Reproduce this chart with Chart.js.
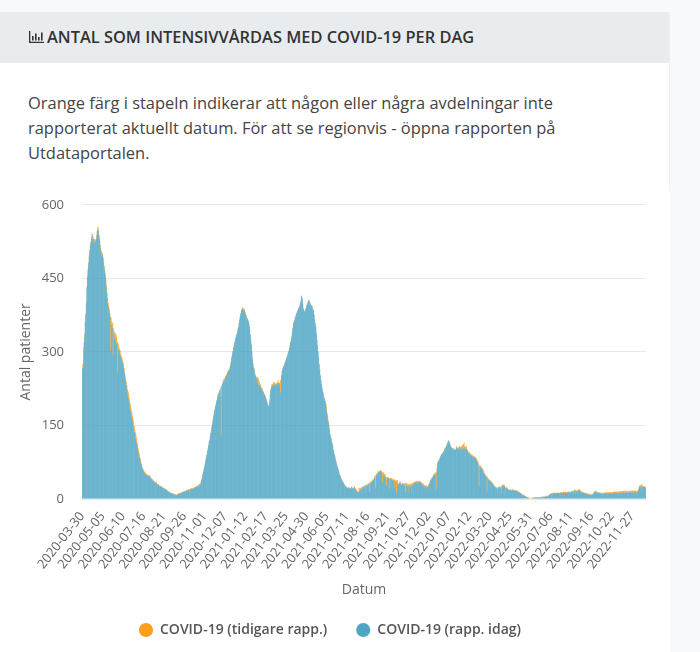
<!DOCTYPE html>
<html>
<head>
<meta charset="utf-8">
<script src="https://cdn.jsdelivr.net/npm/chart.js@4/dist/chart.umd.min.js"></script>
<style>
    html, body { margin: 0; padding: 0; background: #f7fafb; }
    body { width: 700px; height: 652px; position: relative; overflow: hidden; font-family: "Open Sans", sans-serif; }
    .lower-white { position: absolute; left: 0; top: 12px; width: 670px; height: 640px; background: #fff; }
    .card { position: absolute; left: 0; top: 12px; width: 669px; height: 179px; background: #fff; border-right: 1px solid #eef0f2; }
    .card-header { height: 49px; padding-bottom: 2px; background: #e9ecef; display: flex; align-items: center; padding-left: 29px; }
    .card-header h2 { margin: 0 0 0 3px; font-size: 16.4px; font-weight: 600; color: #333; white-space: nowrap; }
    .intro { position: absolute; left: 28px; top: 78px; margin: 0; font-size: 16.45px; line-height: 25px; color: #444; white-space: nowrap; }
    .chart-box { position: absolute; left: 0; top: 179px; width: 660px; height: 473px; }
</style>
</head>
<body>
<div class="lower-white"></div>
<div class="card">
    <div class="card-header">
        <svg width="15" height="12" viewBox="0 0 15 12"><path d="M0 0h1.3v10.7H15V12H0zM3 5h1.6v4.5H3zM6 2.5h1.6v7H6zM9 6h1.6v3.5H9zM12 1.5h1.6v8H12z" fill="#333"/></svg>
        <h2>ANTAL SOM INTENSIVVÅRDAS MED COVID-19 PER DAG</h2>
    </div>
    <p class="intro">Orange färg i stapeln indikerar att någon eller några avdelningar inte<br>rapporterat aktuellt datum. För att se regionvis - öppna rapporten på<br>Utdataportalen.</p>
</div>
<div class="chart-box"><canvas id="icuChart"></canvas></div>

<script>
// one row per 36 days (same spacing as the tick labels)
const rappIdag = [
    266,268,272,300,330,358,375,400,430,452,465,478,490,505,516,522,528,533,537,530,521,524,526,523,525,530,540,548,550,543,534,527,512,503,500,494,
    497,490,478,470,462,452,440,425,412,400,392,385,378,372,300,310,355,350,290,295,335,330,325,322,318,316,255,262,305,302,298,294,290,286,282,278,
    276,270,262,255,246,238,230,222,212,206,200,193,186,181,174,168,162,156,149,143,137,131,124,118,112,106,100,94,88,84,80,75,72,68,64,60,
    57,55,53,52,50,49,49,48,47,46,48,46,44,42,41,40,38,37,36,35,34,33,33,32,30,29,29,28,27,26,26,25,24,24,23,22,
    22,21,20,20,19,18,17,16,15,15,14,13,12,12,11,11,10,10,9,9,9,8,8,8,9,9,10,10,11,11,12,12,13,13,14,15,
    15,15,16,16,17,17,17,18,18,19,9,19,20,20,20,21,21,22,22,23,23,24,24,25,26,27,27,28,28,30,34,39,44,50,55,60,
    66,72,78,84,90,96,102,108,115,120,127,134,140,147,154,161,168,175,181,187,192,197,202,207,212,215,218,222,225,127,130,232,235,238,240,242,
    243,246,249,252,254,257,259,261,262,268,274,280,287,293,300,306,311,316,322,327,332,336,340,345,350,358,366,372,378,384,386,388,386,384,386,384,
    380,376,372,368,366,364,362,355,348,335,325,315,300,285,275,268,264,258,252,248,245,242,238,234,232,232,230,228,226,224,222,220,218,215,213,211,
    208,204,200,196,192,190,188,200,212,222,226,228,230,232,232,234,232,230,234,235,232,234,236,232,234,236,215,220,250,258,264,268,270,274,277,280,
    284,287,290,294,298,302,306,312,318,324,330,338,348,356,360,364,368,372,376,379,382,385,388,390,392,396,402,412,414,408,396,388,384,382,384,388,
    392,396,398,402,404,406,402,398,396,394,394,390,386,384,376,366,358,350,338,325,312,300,289,275,264,252,242,234,228,221,216,210,205,200,194,188,
    180,172,165,157,150,142,133,128,123,118,113,108,100,95,90,85,80,75,70,66,62,58,54,50,47,44,41,39,36,34,32,30,28,26,25,24,
    23,22,22,23,22,21,21,22,24,23,22,21,22,24,20,19,17,16,15,14,13,15,17,14,19,21,18,22,24,20,23,26,25,12,27,28,
    26,29,30,14,16,33,30,34,35,37,34,38,42,44,22,24,48,50,52,54,53,55,56,57,55,54,32,34,50,48,47,45,44,25,27,42,
    42,43,41,20,22,41,39,40,38,37,39,22,24,36,35,15,10,36,30,28,30,32,34,30,28,29,30,30,28,26,30,12,14,29,16,26,
    27,14,26,25,27,26,12,27,29,30,32,31,33,34,35,32,34,31,33,35,36,34,33,32,30,28,30,27,26,24,26,22,25,24,23,25,
    28,14,32,36,38,40,42,44,46,48,49,50,50,22,20,62,73,76,78,80,83,86,88,90,92,93,95,97,100,103,103,106,109,112,115,118,
    119,116,112,108,106,104,103,102,101,103,100,98,100,104,105,103,102,100,104,106,103,101,100,104,102,100,103,105,100,101,102,103,100,98,96,93,
    94,92,90,89,88,87,86,85,85,84,84,83,81,79,76,74,72,24,26,66,64,63,62,60,57,54,52,50,48,47,46,14,16,42,40,38,
    37,36,35,34,33,32,30,28,26,25,24,23,22,22,12,22,23,24,22,22,23,10,24,26,27,28,26,25,9,22,23,21,20,19,18,18,
    18,18,17,18,19,17,18,17,16,17,17,16,17,16,15,14,14,13,12,11,10,9,8,8,7,7,6,5,5,4,3,3,2,2,1,1,
    0,0,1,1,1,2,1,2,1,2,2,1,2,2,2,3,2,3,3,3,3,3,4,3,4,4,4,5,5,5,5,6,6,7,8,9,
    10,10,11,5,11,12,12,11,10,12,12,11,12,11,12,10,12,13,11,12,13,5,14,13,12,12,14,13,12,11,14,15,13,12,13,14,
    14,13,15,16,14,15,16,18,8,16,15,14,16,18,20,17,16,15,14,13,14,12,13,12,11,12,10,11,10,9,10,9,8,9,8,8,
    9,8,8,10,12,14,16,15,14,13,14,13,12,11,12,10,11,10,11,10,10,10,11,10,12,11,10,12,11,10,11,12,10,11,12,11,
    10,11,12,11,12,13,11,12,13,11,12,13,6,12,11,13,12,13,11,13,12,14,12,13,14,12,14,13,7,13,14,12,14,15,13,12,
    14,13,11,14,15,13,14,12,10,12,16,18,22,25,26,25,24,12,26,26,25,24,25,24,23
];

const tidigareRapp = [
    0,8,38,20,6,4,4,3,3,3,5,5,6,3,2,3,5,8,4,6,10,6,4,6,4,8,6,5,6,5,5,3,6,5,6,4,
    5,4,6,5,4,6,8,10,8,10,8,8,9,8,71,60,7,8,70,53,9,10,14,15,16,14,65,58,10,8,8,10,6,6,8,6,
    5,6,5,4,6,8,8,10,12,14,16,14,12,14,12,12,14,13,14,14,12,10,12,14,12,10,12,9,10,8,5,6,3,3,2,2,
    3,3,2,4,2,3,1,2,3,2,1,2,3,2,2,1,3,2,2,1,2,1,2,3,1,2,1,2,2,1,1,2,1,2,1,1,
    1,1,2,1,1,1,2,1,1,1,1,1,1,1,2,1,1,1,1,1,1,1,1,1,1,1,2,1,1,1,1,2,1,1,1,1,
    2,1,1,2,1,1,2,1,2,1,11,2,1,2,3,1,2,1,2,1,2,3,2,1,2,1,3,2,3,2,3,2,1,2,1,2,
    2,1,2,2,1,2,1,2,2,1,2,1,3,2,1,2,3,1,2,2,1,2,1,3,2,1,2,1,3,81,100,1,2,3,4,4,
    4,5,3,2,4,3,5,2,3,2,3,2,3,2,2,3,2,3,2,3,2,1,2,3,1,2,1,2,1,2,2,3,2,4,4,3,
    2,2,3,2,3,2,1,2,3,2,3,2,2,3,2,2,3,2,2,2,4,7,10,12,12,8,5,6,4,3,4,3,2,2,1,1,
    1,1,1,2,1,1,1,1,2,2,4,6,5,3,6,4,6,4,3,2,2,5,7,6,3,1,28,20,3,3,2,1,2,1,2,1,
    1,2,1,1,2,1,2,3,2,1,2,3,2,3,2,1,2,1,2,1,1,1,1,1,2,1,1,1,1,1,2,1,1,1,1,1,
    1,1,1,1,1,1,1,2,1,1,1,1,1,1,1,1,1,1,1,1,2,1,1,1,1,1,1,1,1,1,1,1,1,1,6,8,
    8,4,6,3,4,2,1,1,2,1,1,1,1,1,1,2,1,2,1,1,1,2,1,1,2,1,1,1,1,1,1,1,2,1,1,1,
    1,1,2,1,1,2,1,1,2,1,1,2,1,2,4,3,4,3,2,2,1,8,4,9,3,2,6,2,2,6,2,2,2,16,2,2,
    3,2,2,18,17,2,4,2,2,3,6,2,2,3,24,25,3,2,2,3,4,2,1,2,4,3,22,20,4,6,4,5,4,20,18,2,
    3,1,3,22,20,2,4,3,4,3,2,16,16,4,4,22,28,3,2,3,2,3,2,2,3,2,3,2,3,4,2,20,18,3,16,3,
    3,16,4,5,3,4,20,3,4,3,2,3,2,1,2,4,2,5,2,2,1,2,2,3,4,3,2,4,3,4,2,5,2,3,2,2,
    2,16,2,2,2,2,2,1,2,2,3,2,2,33,34,2,1,2,1,1,1,1,1,2,1,1,2,1,1,2,1,1,1,1,1,1,
    1,1,1,1,1,1,1,2,1,1,1,3,1,2,3,2,3,3,2,2,4,5,6,5,8,10,9,10,8,6,4,5,3,3,2,2,
    2,2,3,2,3,4,3,2,3,3,2,2,3,3,4,3,4,40,44,4,4,3,3,3,4,5,4,3,3,2,2,30,30,2,2,2,
    2,1,3,2,2,1,2,2,2,1,2,2,1,2,10,3,2,2,3,2,3,16,4,3,2,2,2,3,14,2,1,2,2,1,2,1,
    1,2,1,1,2,2,1,2,2,1,1,2,1,1,1,1,1,2,1,1,2,1,1,1,1,1,1,1,1,1,1,1,1,1,1,1,
    1,1,1,2,2,1,2,1,3,2,2,3,2,2,2,1,2,1,1,1,2,1,1,2,1,1,1,1,1,2,1,1,1,1,1,1,
    1,1,1,6,2,1,1,2,2,1,1,2,1,2,1,3,1,1,3,2,1,8,1,2,3,2,1,1,2,3,1,1,2,3,2,1,
    2,3,2,1,3,2,3,2,10,2,3,4,2,1,1,2,3,2,3,2,1,2,1,2,2,1,2,1,2,1,1,2,2,1,1,1,
    1,1,2,1,1,1,1,2,2,2,1,2,2,3,2,3,2,3,2,3,3,2,2,3,2,2,4,2,3,4,3,2,4,3,2,4,
    4,3,2,4,3,3,4,3,2,4,3,2,9,3,5,3,4,3,5,3,4,3,5,4,2,4,3,4,9,4,2,4,3,2,4,5,
    3,4,6,3,2,5,3,5,6,4,2,2,2,3,2,3,5,18,2,1,1,1,1,1,1
];

const tickLabels = [
    '2020-03-30', '2020-05-05', '2020-06-10', '2020-07-16', '2020-08-21', '2020-09-26', '2020-11-01',
    '2020-12-07', '2021-01-12', '2021-02-17', '2021-03-25', '2021-04-30', '2021-06-05', '2021-07-11',
    '2021-08-16', '2021-09-21', '2021-10-27', '2021-12-02', '2022-01-07', '2022-02-12', '2022-03-20',
    '2022-04-25', '2022-05-31', '2022-07-06', '2022-08-11', '2022-09-16', '2022-10-22', '2022-11-27'
];
const yTicks = [0, 150, 300, 450, 600];

// one category per day
const categories = rappIdag.map((v, i) => {
    const d = new Date(Date.UTC(2020, 2, 30 + i));
    return d.toISOString().slice(0, 10);
});

const tickColor = '#666';
const fontFamily = '"Open Sans", sans-serif';

const ctx = document.getElementById('icuChart').getContext('2d');
const icuChart = new Chart(ctx, {
    type: 'bar',
    data: {
        labels: categories,
        datasets: [
            {
                label: 'COVID-19 (rapp. idag)',
                data: rappIdag,
                backgroundColor: '#4fa6c4',
                borderWidth: 0,
                barPercentage: 1.2,
                categoryPercentage: 1
            },
            {
                label: 'COVID-19 (tidigare rapp.)',
                data: tidigareRapp,
                backgroundColor: '#ff9f1c',
                borderWidth: 0,
                barPercentage: 1.2,
                categoryPercentage: 1
            }
        ]
    },
    options: {
        responsive: true,
        maintainAspectRatio: false,
        animation: false,
        layout: { padding: { left: 14, right: 14, top: 5, bottom: 5 } },
        scales: {
            x: {
                stacked: true,
                grid: { display: false },
                border: { display: false },
                afterFit: (scale) => { scale.height = 95; },
                ticks: {
                    autoSkip: false,
                    maxRotation: 52,
                    minRotation: 52,
                    padding: 2,
                    color: tickColor,
                    font: { family: fontFamily, size: 13 },
                    callback: function (value) {
                        const label = this.getLabelForValue(value);
                        return tickLabels.includes(label) ? label : '';
                    }
                },
                title: {
                    display: true,
                    text: 'Datum',
                    color: tickColor,
                    padding: { top: 4, bottom: -4 },
                    font: { family: fontFamily, size: 14 }
                }
            },
            y: {
                stacked: true,
                min: 0,
                max: 600,
                afterBuildTicks: (scale) => { scale.ticks = yTicks.map(v => ({ value: v })); },
                afterFit: (scale) => { scale.width = 68; },
                grid: { color: '#e8e8e8', drawTicks: false },
                border: { display: false },
                ticks: {
                    padding: 18,
                    color: tickColor,
                    font: { family: fontFamily, size: 13 }
                },
                title: {
                    display: true,
                    text: 'Antal patienter',
                    color: tickColor,
                    font: { family: fontFamily, size: 14 }
                }
            }
        },
        plugins: {
            legend: {
                position: 'bottom',
                reverse: true,
                labels: {
                    color: '#555',
                    usePointStyle: true,
                    pointStyle: 'circle',
                    boxHeight: 10,
                    padding: 29,
                    font: { family: fontFamily, size: 14, weight: '600' }
                }
            },
            tooltip: { enabled: false }
        }
    }
});
</script>
</body>
</html>
